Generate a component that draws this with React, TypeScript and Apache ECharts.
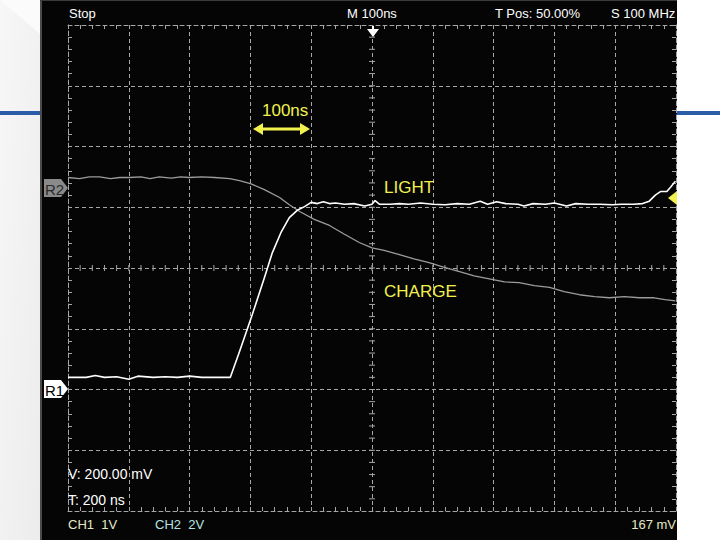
import React, { useEffect, useRef } from "react";
import * as echarts from "echarts";

// Traces in graticule divisions (x: -5..5, y: -4..4)
const lightTrace: [number, number][] = [
  [-5.0, -1.8], [-4.7, -1.8], [-4.55, -1.77], [-4.4, -1.8], [-4.2, -1.79], [-4.0, -1.83],
  [-3.85, -1.78], [-3.6, -1.8], [-3.4, -1.79], [-3.2, -1.8], [-3.0, -1.78], [-2.8, -1.8],
  [-2.6, -1.8], [-2.33, -1.8], [-2.18, -1.38], [-1.97, -0.77], [-1.77, -0.16], [-1.64, 0.25],
  [-1.49, 0.6], [-1.36, 0.83], [-1.23, 0.95], [-1.11, 1.01], [-1.0, 1.08], [-0.9, 1.06],
  [-0.8, 1.09], [-0.7, 1.06], [-0.6, 1.07], [-0.45, 1.05], [-0.3, 1.06], [-0.12, 1.02],
  [0.0, 1.05], [0.05, 1.11], [0.12, 1.05], [0.3, 1.05], [0.45, 1.06], [0.6, 1.05],
  [0.8, 1.07], [1.0, 1.05], [1.2, 1.04], [1.4, 1.06], [1.6, 1.05], [1.78, 1.1],
  [1.9, 1.05], [2.05, 1.09], [2.2, 1.06], [2.4, 1.05], [2.5, 1.02], [2.65, 1.06],
  [2.85, 1.05], [3.0, 1.07], [3.2, 1.02], [3.35, 1.06], [3.55, 1.05], [3.75, 1.05],
  [3.95, 1.04], [4.1, 1.05], [4.3, 1.05], [4.45, 1.06], [4.56, 1.1], [4.66, 1.2],
  [4.75, 1.26], [4.85, 1.26], [4.92, 1.34], [4.99, 1.43],
];

const chargeTrace: [number, number][] = [
  [-5.0, 1.49], [-4.81, 1.47], [-4.65, 1.5], [-4.48, 1.5], [-4.3, 1.47], [-4.15, 1.49],
  [-3.99, 1.49], [-3.8, 1.5], [-3.65, 1.47], [-3.5, 1.5], [-3.3, 1.48], [-3.15, 1.5],
  [-3.01, 1.49], [-2.8, 1.5], [-2.59, 1.49], [-2.34, 1.47], [-2.18, 1.44], [-2.0, 1.39],
  [-1.77, 1.29], [-1.52, 1.16], [-1.36, 1.04], [-1.19, 0.93], [-0.95, 0.8], [-0.7, 0.7],
  [-0.46, 0.56], [-0.21, 0.42], [0.0, 0.33], [0.2, 0.29], [0.45, 0.22], [0.69, 0.15],
  [0.94, 0.09], [1.19, 0.01], [1.44, -0.06], [1.68, -0.13], [1.93, -0.18], [2.18, -0.23],
  [2.42, -0.24], [2.67, -0.29], [2.92, -0.32], [3.16, -0.39], [3.41, -0.44], [3.66, -0.47],
  [3.9, -0.49], [4.15, -0.47], [4.4, -0.49], [4.64, -0.49], [4.82, -0.52], [4.99, -0.54],
];

const headerLabels = ["Stop", "M 100ns", "T Pos: 50.00%", "S 100 MHz"];
const footerLabels = ["V: 200.00 mV", "T: 200 ns", "CH1  1V", "CH2  2V", "167 mV"];
const traceLabels = ["LIGHT", "CHARGE", "100ns"];

const X_MIN = -5, X_MAX = 5, Y_MIN = -4, Y_MAX = 4;

export default function App() {
  const ref = useRef<HTMLDivElement>(null);

  useEffect(() => {
    if (!ref.current) return;
    document.body.style.margin = "0";
    const chart = echarts.init(ref.current, null, { renderer: "svg" });

    const gridColor = "#a6a6a6";
    const dash = [4, 3];
    const font = "'Liberation Sans', Arial, sans-serif";

    const xTicks: number[][] = [];
    for (let i = -24; i <= 24; i++) xTicks.push([i / 5, 0]);
    const yTicks: number[][] = [];
    for (let i = -19; i <= 19; i++) yTicks.push([0, i / 5]);

    const axisBase = (pos: string, split: boolean, isX: boolean) => ({
      type: "value",
      position: pos,
      min: isX ? X_MIN : Y_MIN,
      max: isX ? X_MAX : Y_MAX,
      interval: 1,
      axisLine: { show: true, onZero: false, lineStyle: { color: gridColor, width: 1, type: dash } },
      axisTick: { show: true, inside: true, length: 4, lineStyle: { color: gridColor } },
      minorTick: { show: true, splitNumber: 5, length: 4, lineStyle: { color: gridColor } },
      axisLabel: { show: false },
      splitLine: { show: split, lineStyle: { color: gridColor, width: 1, type: dash } },
    });

    const txt = (text: string, x: number, y: number, size: number, fill: string, align = "left", weight = "normal") => ({
      type: "text",
      x, y,
      style: { text, fill, font: `${weight} ${size}px ${font}`, textAlign: align, textVerticalAlign: "middle" },
      z: 10,
    });

    const yellow = "#f2f24e";

    chart.setOption({
      animation: false,
      backgroundColor: "#ffffff",
      grid: { left: 68, top: 25, width: 608, height: 486, containLabel: false },
      xAxis: [axisBase("bottom", true, true), axisBase("top", false, true)],
      yAxis: [axisBase("left", true, false), axisBase("right", false, false)],
      graphic: [
        // backdrop
        {
          type: "rect", shape: { x: 0, y: 0, width: 40, height: 540 }, z: -10,
          style: { fill: new echarts.graphic.LinearGradient(0, 0, 1, 1, [
            { offset: 0, color: "#f7f7f7" }, { offset: 1, color: "#ececec" }]) },
        },
        { type: "polygon", shape: { points: [[0, 0], [40, 0], [40, 34]] }, z: -9, style: { fill: "#fbfbfb" } },
        { type: "rect", shape: { x: 0, y: 111, width: 40, height: 4 }, z: -8, style: { fill: "#2b5ca8" } },
        { type: "rect", shape: { x: 677, y: 111, width: 43, height: 4 }, z: -8, style: { fill: "#2b5ca8" } },
        { type: "rect", shape: { x: 40, y: 0, width: 637, height: 540 }, z: -7, style: { fill: "#050505" } },
        { type: "line", shape: { x1: 41, y1: 0, x2: 41, y2: 540 }, z: -6, style: { stroke: "#4a4a4a", lineWidth: 2 } },
        { type: "line", shape: { x1: 40, y1: 0.5, x2: 677, y2: 0.5 }, z: -6, style: { stroke: "#3a3a3a", lineWidth: 1 } },
        // header
        txt(headerLabels[0], 69, 13, 13, "#ffffff"),
        txt(headerLabels[1], 347, 13, 13, "#ffffff"),
        txt(headerLabels[2], 495, 13, 13, "#ffffff"),
        txt(headerLabels[3], 611, 13, 13, "#ffffff"),
        // trigger position marker
        { type: "polygon", shape: { points: [[367, 29], [379, 29], [373, 37]] }, z: 10, style: { fill: "#ffffff" } },
        { type: "line", shape: { x1: 373, y1: 26, x2: 373, y2: 30 }, z: 10, style: { stroke: "#ffffff", lineWidth: 2 } },
        // 100ns annotation
        txt(traceLabels[2], 262, 110, 17, yellow),
        { type: "line", shape: { x1: 260, y1: 129, x2: 303, y2: 129 }, z: 10, style: { stroke: yellow, lineWidth: 3 } },
        { type: "polygon", shape: { points: [[253, 129], [263, 123], [263, 135]] }, z: 10, style: { fill: yellow } },
        { type: "polygon", shape: { points: [[310, 129], [300, 123], [300, 135]] }, z: 10, style: { fill: yellow } },
        txt(traceLabels[0], 384, 187, 17, yellow),
        txt(traceLabels[1], 384, 291, 17, yellow),
        // reference markers
        { type: "polygon", shape: { points: [[44, 179], [61, 179], [68, 188], [61, 197], [44, 197]] }, z: 10, style: { fill: "#8a8a8a" } },
        txt("R2", 45, 189, 15, "#2a2a2a"),
        { type: "polygon", shape: { points: [[44, 380], [61, 380], [68, 389], [61, 398], [44, 398]] }, z: 10, style: { fill: "#ffffff" } },
        txt("R1", 45, 390, 15, "#000000"),
        // trigger level marker
        { type: "polygon", shape: { points: [[668, 198], [677, 191], [677, 205]] }, z: 10, style: { fill: yellow } },
        // footer
        txt(footerLabels[0], 68, 474, 14, "#ffffff"),
        txt(footerLabels[1], 68, 500, 14, "#ffffff"),
        txt(footerLabels[2], 68, 524, 13, "#e8e8c6"),
        txt(footerLabels[3], 155, 524, 13, "#b8e2e2"),
        txt(footerLabels[4], 676, 524, 13, "#e8e8c6", "right"),
      ],
      series: [
        {
          type: "custom",
          xAxisIndex: 0, yAxisIndex: 0,
          data: xTicks,
          encode: { x: 0, y: 1 },
          silent: true,
          renderItem: (_p: any, api: any) => {
            const pt = api.coord([api.value(0), api.value(1)]);
            return {
              type: "line",
              shape: { x1: pt[0], y1: pt[1] - 3, x2: pt[0], y2: pt[1] + 3 },
              style: { stroke: gridColor, lineWidth: 1 },
            };
          },
        },
        {
          type: "custom",
          xAxisIndex: 0, yAxisIndex: 0,
          data: yTicks,
          encode: { x: 0, y: 1 },
          silent: true,
          renderItem: (_p: any, api: any) => {
            const pt = api.coord([api.value(0), api.value(1)]);
            return {
              type: "line",
              shape: { x1: pt[0] - 3, y1: pt[1], x2: pt[0] + 3, y2: pt[1] },
              style: { stroke: gridColor, lineWidth: 1 },
            };
          },
        },
        {
          name: "CHARGE",
          type: "line",
          xAxisIndex: 0, yAxisIndex: 0,
          data: chargeTrace,
          symbol: "none",
          lineStyle: { color: "#9c9c9c", width: 1.3 },
          z: 5,
        },
        {
          name: "LIGHT",
          type: "line",
          xAxisIndex: 0, yAxisIndex: 0,
          data: lightTrace,
          symbol: "none",
          lineStyle: { color: "#ffffff", width: 1.6 },
          z: 6,
        },
      ],
    });

    return () => chart.dispose();
  }, []);

  return <div ref={ref} style={{ position: "absolute", left: 0, top: 0, width: 720, height: 540 }} />;
}
